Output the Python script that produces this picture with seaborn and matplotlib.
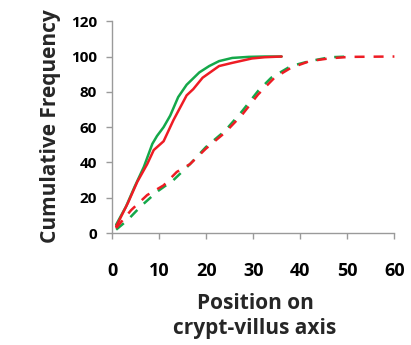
import matplotlib
matplotlib.use("Agg")
import matplotlib.pyplot as plt
import seaborn as sns
import pandas as pd

# Data
green_solid_x = [0.8, 2.9, 4.7, 6.7, 8.5, 9.5, 10.9, 12.3, 14.0, 15.8, 18.5, 20.6, 22.7, 25.5, 29.0, 32.4, 36.0]
green_solid_y = [4.7, 15, 26, 37.5, 50.5, 55, 60, 66.5, 77, 84, 91, 94.6, 97.4, 99.2, 99.8, 100, 100]

red_solid_x = [0.8, 3.3, 5.3, 7.4, 8.8, 10.9, 13.0, 15.8, 17.2, 19.2, 22.7, 25.5, 29.7, 32.4, 36.0]
red_solid_y = [3.7, 17, 29, 39, 47, 52, 64, 78, 81.5, 88, 94.6, 96.4, 98.9, 99.6, 100]

green_dash_x = [0.8, 3.3, 6.0, 9.5, 13.0, 16.5, 19.9, 24.0, 27.6, 31.0, 33.8, 38.0, 42.0, 46.3, 50.5]
green_dash_y = [1.9, 7.5, 15, 23.4, 30, 39, 48.7, 58, 69, 80.5, 88, 94.6, 97.4, 99.6, 100]

red_dash_x = [0.8, 4.0, 7.4, 10.9, 13.7, 16.5, 19.9, 24.0, 27.6, 31.0, 34.5, 38.0, 42.0, 46.3, 50.5, 60.0]
red_dash_y = [2.8, 13, 21.5, 27, 34.6, 39, 47.8, 57, 67, 78.5, 88, 93.6, 97.4, 99, 99.8, 100]

x_ticks = [0, 10, 20, 30, 40, 50, 60]
y_ticks = [0, 20, 40, 60, 80, 100, 120]

GREEN = "#14a84a"
RED = "#ee1c24"

sns.set_theme(style="white")
plt.rcParams['font.family'] = ['Open Sans', 'DejaVu Sans']
plt.rcParams['font.weight'] = 'bold'

fig = plt.figure(figsize=(4.11, 3.45), dpi=100)
ax = fig.add_axes([0.270, 0.3246, 0.701, 0.619])

series = [
    (green_solid_x, green_solid_y, GREEN, "-"),
    (red_solid_x, red_solid_y, RED, "-"),
    (green_dash_x, green_dash_y, GREEN, "--"),
    (red_dash_x, red_dash_y, RED, "--"),
]
for xs, ys, col, ls in series:
    df = pd.DataFrame({"x": xs, "y": ys})
    sns.lineplot(data=df, x="x", y="y", ax=ax, color=col, linewidth=1.8,
                 sort=False, estimator=None)
    if ls == "--":
        ax.lines[-1].set_dashes([4, 3.6])

ax.set_xlim(-0.3, 61)
ax.set_ylim(0, 121)
ax.set_xticks(x_ticks)
ax.set_yticks(y_ticks)
ax.set_xticklabels([str(t) for t in x_ticks], fontsize=13, fontweight='bold')
ax.set_yticklabels([str(t) for t in y_ticks], fontsize=13, fontweight='bold')

for s in ["top", "right"]:
    ax.spines[s].set_visible(False)
for s in ["left", "bottom"]:
    ax.spines[s].set_color("#9a9a9a")
    ax.spines[s].set_linewidth(1.0)
ax.spines["left"].set_bounds(0, 120)
ax.spines["bottom"].set_bounds(0, 60)
ax.spines["left"].set_position(("data", 0))

ax.tick_params(axis="x", which="major", direction="out", length=4, width=1,
               color="#9a9a9a", pad=17, labelcolor="black", bottom=True)
ax.tick_params(axis="y", which="major", direction="out", length=4, width=1,
               color="#9a9a9a", pad=7, labelcolor="black", left=True)

ax.set_xlabel("Position on\ncrypt-villus axis", fontsize=15, fontweight='bold',
              linespacing=1.3, labelpad=9)
ax.set_ylabel("Cumulative Frequency", fontsize=15, fontweight='bold', labelpad=7)

fig.savefig("out.png", dpi=100)
